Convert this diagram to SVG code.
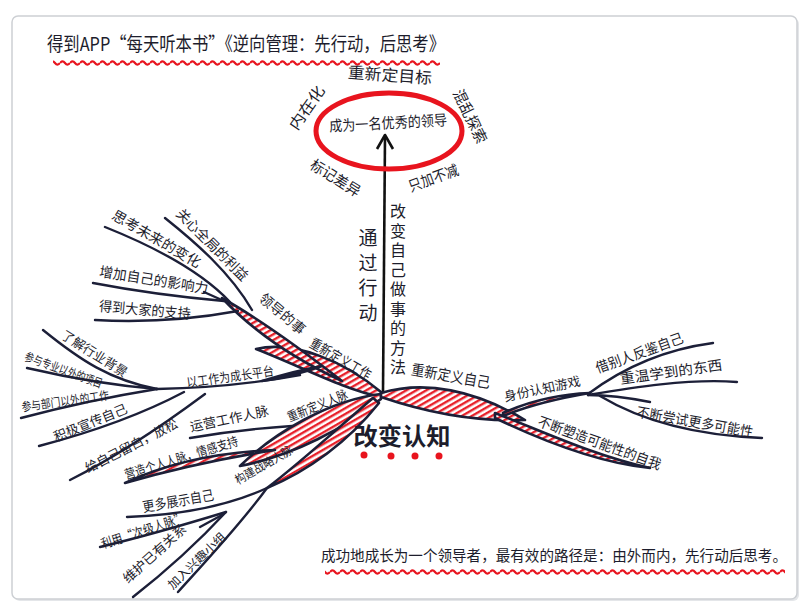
<svg xmlns="http://www.w3.org/2000/svg" width="810" height="613" viewBox="0 0 810 613">
<defs>
<style>
.t{font-family:"Noto Sans CJK SC","Noto Sans",sans-serif;fill:#1d1d2c;text-anchor:middle;dominant-baseline:central}
.v{font-family:"Noto Sans CJK SC","Noto Sans",sans-serif;fill:#1d1d2c;writing-mode:vertical-rl;text-anchor:start}
.br{fill:none;stroke:#1c1f38;stroke-width:2.4;stroke-linecap:round}
.leaf{fill:url(#hatch);stroke:#1c1f38;stroke-width:2.6;stroke-linejoin:round}
</style>
<pattern id="hatch" patternUnits="userSpaceOnUse" width="5" height="5" patternTransform="rotate(60)">
<rect width="5" height="5" fill="#fff"/><rect width="2.4" height="5" fill="#e8202a"/>
</pattern>
<pattern id="wave1" patternUnits="userSpaceOnUse" x="0" y="59" width="10" height="8">
<path d="M0,4 Q2.5,0.8 5,4 T10,4" fill="none" stroke="#e8141e" stroke-width="2.2"/>
</pattern>
<pattern id="wave2" patternUnits="userSpaceOnUse" x="0" y="568" width="10" height="8">
<path d="M0,4 Q2.5,0.8 5,4 T10,4" fill="none" stroke="#e8141e" stroke-width="2.2"/>
</pattern>
</defs>
<rect width="810" height="613" fill="#fff"/>
<rect x="14" y="18" width="785" height="583" rx="6" fill="#e4e6e9"/>
<rect x="12" y="16" width="785" height="583" rx="6" fill="#fff" stroke="#cdd0d4" stroke-width="1.5"/>

<g id="title">
<text class="t" x="246" y="42" font-size="19" textLength="398" lengthAdjust="spacingAndGlyphs">得到APP“每天听本书”《逆向管理：先行动，后思考》</text>
<rect x="53" y="59" width="387" height="8" fill="url(#wave1)"/>
</g>

<g id="connectors">
<line x1="383" y1="392" x2="385" y2="137" stroke="#111" stroke-width="2.6"/>
<path d="M377,149 L385,135 L393,149" fill="none" stroke="#111" stroke-width="2.6" stroke-linejoin="round"/>
<path class="leaf" d="M381,392 C345,362 295,340 256,349 C300,366 345,390 381,397 Z"/>
<path class="leaf" d="M222,298 C254,316 292,342 342,381 C292,358 254,332 222,298 Z"/>
<path class="br" d="M165,218 C195,242 230,272 252,310"/>
<path class="br" d="M105,227 C150,245 200,270 230,302"/>
<path class="br" d="M93,283 C140,292 190,298 224,301"/>
<path class="br" d="M204,292 L224,301"/>
<path class="br" d="M95,320 C150,323 200,318 238,311"/>
<path class="br" d="M157,389 C210,388 262,382 300,375"/>
<path class="leaf" d="M262,381 C285,374 305,369 322,366 C305,372 285,378 262,381 Z"/>
<path class="br" d="M43,330 C80,360 110,380 157,389"/>
<path class="br" d="M27,368 C70,378 120,386 157,389"/>
<path class="br" d="M21,418 C70,405 120,395 157,389"/>
<path class="br" d="M39,446 C100,430 150,410 184,392"/>
<path class="br" d="M70,480 C120,455 170,420 205,394"/>
<path class="leaf" d="M381,394 C330,400 275,432 240,466 C295,455 345,428 381,399 Z"/>
<path class="br" d="M190,438 C225,432 260,428 292,426"/>
<path class="leaf" d="M125,483 C170,462 220,452 275,450 C225,458 170,470 125,483 Z"/>
<path class="leaf" d="M373,398 C338,428 300,463 267,488 C308,471 348,442 379,403 Z"/>
<path class="br" d="M127,517 C180,515 230,505 267,488"/>
<path class="br" d="M100,547 C150,535 190,523 226,512"/>
<path class="br" d="M200,527 L222,515"/>
<path class="br" d="M226,512 C200,540 165,572 133,597"/>
<path class="br" d="M267,488 C240,525 205,562 178,592"/>
<path class="leaf" d="M381,393 C425,380 475,390 525,420 C475,422 425,412 381,397 Z"/>
<path class="leaf" d="M503,413 C530,401 560,394 590,393 C560,398 530,405 503,416 Z"/>
<path class="leaf" d="M495,413 C540,430 592,455 650,468 C600,463 545,442 495,418 Z"/>
<path class="br" d="M588,394 C620,370 660,350 713,343"/>
<path class="br" d="M588,395 C630,388 690,378 737,382"/>
<path class="br" d="M588,395 C610,395 630,398 650,402"/>
<path class="br" d="M600,396 C640,420 690,435 762,438"/>
</g>

<g id="goal">
<ellipse cx="389" cy="131" rx="73" ry="38" fill="none" stroke="#e8141e" stroke-width="5"/>
<text class="t" x="388" y="122" font-size="15" textLength="118" lengthAdjust="spacingAndGlyphs" transform="rotate(-3 388 122)">成为一名优秀的领导</text>
</g>
<g id="goal-attrs">
<text class="t" x="390" y="74" font-size="16" textLength="84" lengthAdjust="spacingAndGlyphs" transform="rotate(4 390 74)">重新定目标</text>
<text class="t" x="306" y="107" font-size="15" textLength="50" lengthAdjust="spacingAndGlyphs" transform="rotate(-55 306 107)">内在化</text>
<text class="t" x="471" y="116" font-size="15" textLength="58" lengthAdjust="spacingAndGlyphs" transform="rotate(64 471 116)">混乱探索</text>
<text class="t" x="336" y="177" font-size="15" textLength="56" lengthAdjust="spacingAndGlyphs" transform="rotate(32 336 177)">标记差异</text>
<text class="t" x="433" y="177" font-size="15" textLength="52" lengthAdjust="spacingAndGlyphs" transform="rotate(-20 433 177)">只加不减</text>
</g>
<g id="via-action">
<text class="v" x="368" y="228" font-size="19" letter-spacing="6">通过行动</text>
</g>
<g id="via-method">
<text class="v" x="398" y="203" font-size="16" letter-spacing="3.5">改变自己做事的方法</text>
</g>
<g id="center">
<text class="t" x="402" y="434" font-size="24" font-weight="bold" textLength="97" lengthAdjust="spacingAndGlyphs">改变认知</text>
<circle cx="364" cy="455" r="3.5" fill="#e8141e"/><circle cx="391" cy="456" r="3.5" fill="#e8141e"/><circle cx="415" cy="456" r="3.5" fill="#e8141e"/><circle cx="439" cy="456" r="3.5" fill="#e8141e"/>
</g>

<g id="redefine-work">
<text class="t" x="341" y="358" font-size="14" textLength="68" lengthAdjust="spacingAndGlyphs" transform="rotate(30 341 358)">重新定义工作</text>
</g>
<g id="leader-job">
<text class="t" x="283" y="313" font-size="14" textLength="55" lengthAdjust="spacingAndGlyphs" transform="rotate(40 283 313)">领导的事</text>
</g>
<g id="care-global"><text class="t" x="213" y="244" font-size="14" textLength="95" lengthAdjust="spacingAndGlyphs" transform="rotate(45 213 244)">关心全局的利益</text></g>
<g id="think-future"><text class="t" x="157" y="238" font-size="14" textLength="100" lengthAdjust="spacingAndGlyphs" transform="rotate(30 157 238)">思考未来的变化</text></g>
<g id="influence"><text class="t" x="154" y="279" font-size="14" textLength="110" lengthAdjust="spacingAndGlyphs" transform="rotate(9 154 279)">增加自己的影响力</text></g>
<g id="support"><text class="t" x="145" y="309" font-size="14" textLength="92" lengthAdjust="spacingAndGlyphs" transform="rotate(5 145 309)">得到大家的支持</text></g>

<g id="work-platform"><text class="t" x="230" y="376" font-size="13" textLength="88" lengthAdjust="spacingAndGlyphs" transform="rotate(-8 230 376)">以工作为成长平台</text></g>
<g id="industry"><text class="t" x="95" y="353" font-size="13" textLength="75" lengthAdjust="spacingAndGlyphs" transform="rotate(32 95 353)">了解行业背景</text></g>
<g id="other-project"><text class="t" x="64" y="369" font-size="12" textLength="82" lengthAdjust="spacingAndGlyphs" transform="rotate(20 64 369)">参与专业以外的项目</text></g>
<g id="other-dept"><text class="t" x="65" y="400" font-size="12" textLength="88" lengthAdjust="spacingAndGlyphs" transform="rotate(-8 65 400)">参与部门以外的工作</text></g>
<g id="promote"><text class="t" x="90" y="422" font-size="13" textLength="78" lengthAdjust="spacingAndGlyphs" transform="rotate(-22 90 422)">积极宣传自己</text></g>
<g id="relax"><text class="t" x="131" y="445" font-size="13" textLength="102" lengthAdjust="spacingAndGlyphs" transform="rotate(-27 131 445)">给自己留白，放松</text></g>

<g id="redefine-network"><text class="t" x="317" y="405" font-size="13" textLength="64" lengthAdjust="spacingAndGlyphs" transform="rotate(-22 317 405)">重新定义人脉</text></g>
<g id="op-network"><text class="t" x="229" y="418" font-size="13" textLength="80" lengthAdjust="spacingAndGlyphs" transform="rotate(-12 229 418)">运营工作人脉</text></g>
<g id="personal-network"><text class="t" x="181" y="457" font-size="13" textLength="118" lengthAdjust="spacingAndGlyphs" transform="rotate(-17 181 457)">营造个人人脉，情感支持</text></g>
<g id="strategic-network"><text class="t" x="263" y="464" font-size="12" textLength="64" lengthAdjust="spacingAndGlyphs" transform="rotate(-30 263 464)">构建战略人脉</text></g>
<g id="show-self"><text class="t" x="178" y="500" font-size="14" textLength="72" lengthAdjust="spacingAndGlyphs" transform="rotate(-10 178 500)">更多展示自己</text></g>
<g id="secondary"><text class="t" x="143" y="530" font-size="13" textLength="88" lengthAdjust="spacingAndGlyphs" transform="rotate(-18 143 530)">利用“次级人脉”</text></g>
<g id="maintain"><text class="t" x="154" y="553" font-size="13" textLength="80" lengthAdjust="spacingAndGlyphs" transform="rotate(-42 154 553)">维护已有关系</text></g>
<g id="interest"><text class="t" x="196" y="560" font-size="12" textLength="75" lengthAdjust="spacingAndGlyphs" transform="rotate(-44 196 560)">加入兴趣小组</text></g>

<g id="redefine-self"><text class="t" x="451" y="375" font-size="15" textLength="80" lengthAdjust="spacingAndGlyphs" transform="rotate(10 451 375)">重新定义自己</text></g>
<g id="identity-game"><text class="t" x="542" y="388" font-size="13" textLength="78" lengthAdjust="spacingAndGlyphs" transform="rotate(-12 542 388)">身份认知游戏</text></g>
<g id="mirror"><text class="t" x="639" y="352" font-size="14" textLength="92" lengthAdjust="spacingAndGlyphs" transform="rotate(-20 639 352)">借别人反鉴自己</text></g>
<g id="review"><text class="t" x="671" y="371" font-size="14" textLength="103" lengthAdjust="spacingAndGlyphs" transform="rotate(-8 671 371)">重温学到的东西</text></g>
<g id="try-more"><text class="t" x="695" y="421" font-size="14" textLength="118" lengthAdjust="spacingAndGlyphs" transform="rotate(10 695 421)">不断尝试更多可能性</text></g>
<g id="shape-self"><text class="t" x="600" y="442" font-size="14" textLength="130" lengthAdjust="spacingAndGlyphs" transform="rotate(20 600 442)">不断塑造可能性的自我</text></g>

<g id="conclusion">
<text class="t" x="554" y="554" font-size="15" textLength="466" lengthAdjust="spacingAndGlyphs">成功地成长为一个领导者，最有效的路径是：由外而内，先行动后思考。</text>
<rect x="325" y="568" width="460" height="8" fill="url(#wave2)"/>
</g>
</svg>
